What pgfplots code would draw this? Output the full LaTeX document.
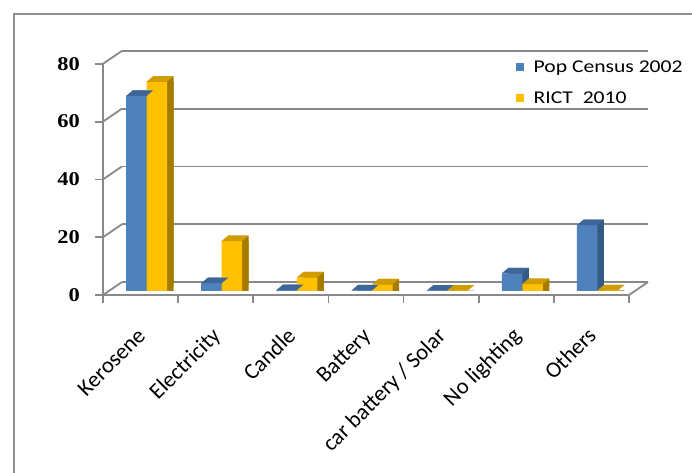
\documentclass[border=0pt]{standalone}
\usepackage{fontspec}
\setmainfont{Carlito}[FakeStretch=1.2]
\newfontfamily\labfont{Carlito}
\newfontfamily\numfont{Liberation Serif}[FakeStretch=1.15]
\usepackage{pgfplots}
\usepackage{pgfplotstable}
\pgfplotsset{compat=1.18}
\definecolor{bluefront}{HTML}{4F81BD}
\definecolor{bluetop}{HTML}{3E6699}
\definecolor{blueside}{HTML}{365A86}
\definecolor{yelfront}{HTML}{FFC000}
\definecolor{yeltop}{HTML}{D09C00}
\definecolor{yelside}{HTML}{A67C00}
\definecolor{gridc}{HTML}{898989}
\definecolor{framec}{HTML}{8E8E8E}

% top faces of the bars (parallelograms), placed at the data point
\pgfdeclareplotmark{topL}{%
  \pgfpathmoveto{\pgfpoint{-20.5bp}{0bp}}\pgfpathlineto{\pgfpoint{0bp}{0bp}}%
  \pgfpathlineto{\pgfpoint{6.5bp}{5.5bp}}\pgfpathlineto{\pgfpoint{-14bp}{5.5bp}}%
  \pgfpathclose\pgfusepathqfill}
\pgfdeclareplotmark{topR}{%
  \pgfpathmoveto{\pgfpoint{0bp}{0bp}}\pgfpathlineto{\pgfpoint{20.5bp}{0bp}}%
  \pgfpathlineto{\pgfpoint{27bp}{5.5bp}}\pgfpathlineto{\pgfpoint{6.5bp}{5.5bp}}%
  \pgfpathclose\pgfusepathqfill}

\pgfplotstableread{
x pop rict
0 67.5 72.4
1 2.7 17.3
2 0.3 4.7
3 0.2 2.3
4 0.1 0.1
5 6.1 2.4
6 22.8 0.2
}\lightdata

\begin{document}
\begin{tikzpicture}
\path[use as bounding box] (0bp,0bp) rectangle (692bp,473bp);
\begin{axis}[
  at={(109bp,182bp)}, anchor=south west,
  scale only axis, width=526bp, height=231.2bp,
  xmin=-0.5, xmax=6.5, ymin=0, ymax=80,
  clip=false,
  axis line style={draw=none},
  major tick length=0pt,
  ybar, bar width=20.5bp,
  xtick={0,...,6},
  xticklabels={Kerosene, Electricity, Candle, Battery, car battery / Solar, No lighting, Others},
  ytick={0,20,40,60,80},
  /pgf/number format/assume math mode=true,
  xticklabel style={font=\labfont\fontsize{22.5bp}{24bp}\selectfont, inner sep=0pt, text height=14bp, text depth=4bp,
    anchor=north east, xshift=-10bp, yshift=-36bp, rotate=45},
  yticklabel style={font=\numfont\bfseries\fontsize{19.5bp}{20bp}\selectfont, inner sep=0pt, anchor=east, xshift=-29bp, yshift=-4bp},
  legend style={draw=none, fill=none, at={(0.7738,0.998)}, anchor=north west, inner sep=0pt,
    font=\fontsize{18bp}{20bp}\selectfont, row sep=16bp, column sep=10bp,
    nodes={inner sep=0pt, text height=12bp, text depth=3bp}},
  legend cell align=left,
  legend image code/.code={\fill[#1] (0bp,-3.5bp) rectangle (7.5bp,4.5bp);},
]
% walls
\pgfplotsinvokeforeach{0,20,40,60,80}{
  \draw[gridc, line width=1.8bp] ([shift={(13bp,9bp)}]axis cs:-0.5,#1) -- ([shift={(13bp,9bp)}]axis cs:6.5,#1);
  \draw[gridc, line width=1.8bp] ([shift={(-6bp,-4bp)}]axis cs:-0.5,#1) -- ([shift={(13bp,9bp)}]axis cs:-0.5,#1);
  \draw[gridc, line width=1.8bp] ([shift={(-6bp,-4bp)}]axis cs:-0.5,#1) -- ++(-8bp,0bp);
}
\draw[gridc, line width=1.8bp] ([shift={(-6bp,-4bp)}]axis cs:-0.5,80) -- ([shift={(-6bp,-4bp)}]axis cs:-0.5,0)
   -- ([shift={(-6bp,-4bp)}]axis cs:6.5,0) -- ([shift={(13bp,9bp)}]axis cs:6.5,0);
\pgfplotsinvokeforeach{-0.5,0.5,1.5,2.5,3.5,4.5,5.5,6.5}{
  \draw[gridc, line width=1.8bp] ([shift={(-6bp,-4bp)}]axis cs:#1,0) -- ++(0bp,-8bp);
}
% Pop Census 2002: side face, top face, front face
\addplot[fill=blueside, draw=none, bar shift=-10.25bp, xshift=6.5bp, forget plot] table[x=x,y=pop]{\lightdata};
\addplot[fill=blueside, draw=none, bar shift=-10.25bp, xshift=6.5bp, yshift=5.5bp, forget plot] table[x=x,y=pop]{\lightdata};
\addplot[only marks, bar shift=0pt, mark=topL, color=bluetop, forget plot] table[x=x,y=pop]{\lightdata};
\addplot[fill=bluefront, draw=none, bar shift=-10.25bp] table[x=x,y=pop]{\lightdata};
\addlegendentry{Pop Census 2002}
% RICT 2010
\addplot[fill=yelside, draw=none, bar shift=10.25bp, xshift=6.5bp, forget plot] table[x=x,y=rict]{\lightdata};
\addplot[fill=yelside, draw=none, bar shift=10.25bp, xshift=6.5bp, yshift=5.5bp, forget plot] table[x=x,y=rict]{\lightdata};
\addplot[only marks, bar shift=0pt, mark=topR, color=yeltop, forget plot] table[x=x,y=rict]{\lightdata};
\addplot[fill=yelfront, draw=none, bar shift=10.25bp] table[x=x,y=rict]{\lightdata};
\addlegendentry{RICT\ \ 2010}
\end{axis}
\draw[framec, line width=1.6bp] (14bp,0bp) -- (14bp,459bp) -- (692bp,459bp);
\end{tikzpicture}
\end{document}
